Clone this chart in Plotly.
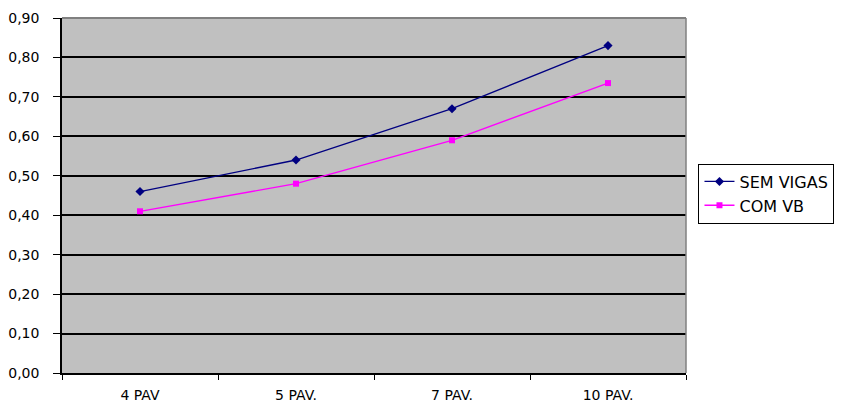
import plotly.graph_objects as go

categories = ["4 PAV", "5 PAV.", "7 PAV.", "10 PAV."]
sem_vigas = [0.46, 0.54, 0.67, 0.83]
com_vb = [0.41, 0.48, 0.59, 0.735]
y_ticks = [0.0, 0.1, 0.2, 0.3, 0.4, 0.5, 0.6, 0.7, 0.8, 0.9]
y_labels = ["0,00", "0,10", "0,20", "0,30", "0,40", "0,50", "0,60", "0,70", "0,80", "0,90"]

fig = go.Figure()
fig.add_trace(go.Scatter(x=categories, y=sem_vigas, name="SEM VIGAS", mode="lines+markers",
                         line=dict(color="#000080", width=1.3),
                         marker=dict(symbol="diamond", size=7, color="#000080")))
fig.add_trace(go.Scatter(x=categories, y=com_vb, name="COM VB", mode="lines+markers",
                         line=dict(color="#FF00FF", width=1.3),
                         marker=dict(symbol="square", size=6, color="#FF00FF")))

fig.update_layout(
    width=847, height=407,
    margin=dict(l=62, r=161, t=18, b=34),
    paper_bgcolor="white", plot_bgcolor="#C0C0C0",
    font=dict(family="DejaVu Sans, sans-serif", size=14, color="black"),
    showlegend=True,
    legend=dict(x=1.02, y=0.59, xanchor="left", yanchor="top",
                bordercolor="black", borderwidth=1, bgcolor="white",
                font=dict(size=16), tracegroupgap=0),
    xaxis=dict(type="category", range=[-0.5, 3.5], showgrid=False,
               ticks="outside", tickson="boundaries", ticklen=5, tickcolor="black",
               showline=True, linecolor="black", linewidth=1.5, mirror=False,
               zeroline=False, ticklabelstandoff=8, automargin=False),
    yaxis=dict(range=[0, 0.9], tickvals=y_ticks, ticktext=y_labels,
               showgrid=True, gridcolor="black", gridwidth=1.5,
               ticks="outside", ticklen=7, tickcolor="black",
               showline=True, linecolor="black", linewidth=1.5, zeroline=False,
               ticklabelstandoff=11, automargin=False),
)
fig.add_shape(type="line", xref="paper", yref="paper", x0=1, x1=1, y0=0, y1=1,
              line=dict(color="#808080", width=1.5))
fig.add_shape(type="line", xref="paper", yref="paper", x0=0, x1=1, y0=1, y1=1,
              line=dict(color="#808080", width=2))
fig.write_html("out.html")
